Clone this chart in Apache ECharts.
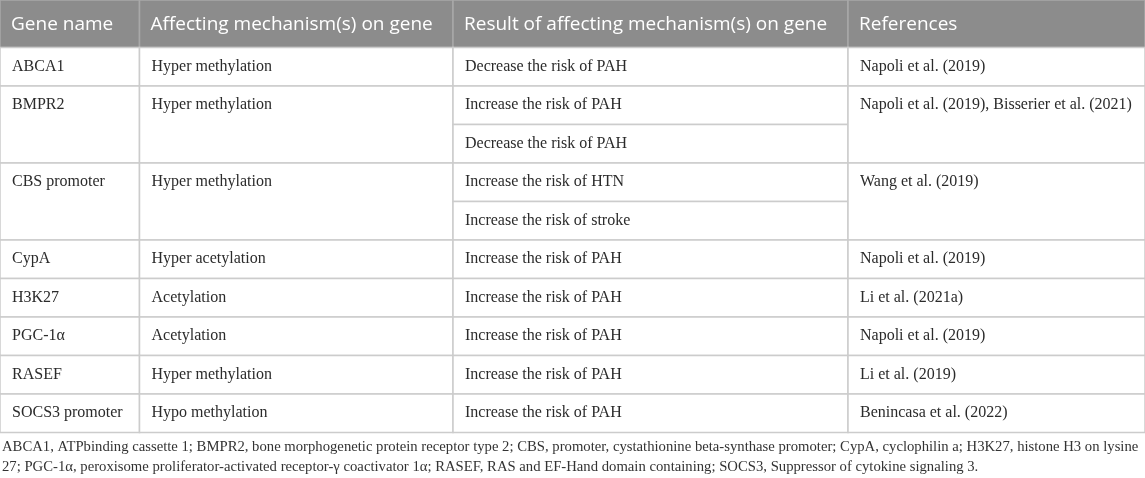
<!DOCTYPE html>
<html>
<head>
<meta charset="utf-8">
<script src="https://cdn.jsdelivr.net/npm/echarts@6/dist/echarts.min.js"></script>
<style>html,body{margin:0;padding:0;background:#fff}#c{width:1145px;height:478px}</style>
</head>
<body>
<div id="c"></div>
<script>
const headers = ['Gene name', 'Affecting mechanism(s) on gene', 'Result of affecting mechanism(s) on gene', 'References'];
const genes = ['ABCA1', 'BMPR2', 'CBS promoter', 'CypA', 'H3K27', 'PGC-1α', 'RASEF', 'SOCS3 promoter'];
const mechanisms = ['Hyper methylation', 'Hyper methylation', 'Hyper methylation', 'Hyper acetylation', 'Acetylation', 'Acetylation', 'Hyper methylation', 'Hypo methylation'];
const results = [
  ['Decrease the risk of PAH'],
  ['Increase the risk of PAH', 'Decrease the risk of PAH'],
  ['Increase the risk of HTN', 'Increase the risk of stroke'],
  ['Increase the risk of PAH'],
  ['Increase the risk of PAH'],
  ['Increase the risk of PAH'],
  ['Increase the risk of PAH'],
  ['Increase the risk of PAH']
];
const references = ['Napoli et al. (2019)', 'Napoli et al. (2019), Bisserier et al. (2021)', 'Wang et al. (2019)', 'Napoli et al. (2019)', 'Li et al. (2021a)', 'Napoli et al. (2019)', 'Li et al. (2019)', 'Benincasa et al. (2022)'];
const footnote = 'ABCA1, ATPbinding cassette 1; BMPR2, bone morphogenetic protein receptor type 2; CBS, promoter, cystathionine beta-synthase promoter; CypA, cyclophilin a; H3K27, histone H3 on lysine\n27; PGC-1α, peroxisome proliferator-activated receptor-γ coactivator 1α; RASEF, RAS and EF-Hand domain containing; SOCS3, Suppressor of cytokine signaling 3.';

// layout (not data)
const colEdges = [0, 139.5, 453, 848, 1145];
const headerUnits = 47.5 / 38.5;

// build cell table
const cells = [];
headers.forEach((h, ci) => cells.push({ header: true, col: ci, y0: -headerUnits, y1: 0, ty: -headerUnits / 2, text: h }));
let r = 0;
genes.forEach((g, i) => {
  const span = results[i].length;
  cells.push({ col: 0, y0: r, y1: r + span, ty: r + 0.5, text: g });
  cells.push({ col: 1, y0: r, y1: r + span, ty: r + 0.5, text: mechanisms[i] });
  results[i].forEach((t, k) => cells.push({ col: 2, y0: r + k, y1: r + k + 1, ty: r + k + 0.5, text: t }));
  cells.push({ col: 3, y0: r, y1: r + span, ty: r + 0.5, text: references[i] });
  r += span;
});
const totalRows = r;

const chart = echarts.init(document.getElementById('c'), null, { renderer: 'canvas' });
chart.setOption({
  animation: false,
  title: {
    text: footnote,
    left: 2,
    top: 437,
    padding: 0,
    textStyle: { fontFamily: 'Liberation Serif', fontSize: 14.7, fontWeight: 'normal', color: '#333', lineHeight: 20 }
  },
  grid: { left: 0, right: 0, top: 0, bottom: 478 - 432.5 },
  xAxis: { type: 'value', min: colEdges[0], max: colEdges[colEdges.length - 1], show: false },
  yAxis: { type: 'value', min: -headerUnits, max: totalRows, inverse: true, show: false },
  series: [{
    type: 'custom',
    clip: false,
    data: cells.map(c => [colEdges[c.col], c.y0, colEdges[c.col + 1], c.y1, c.ty]),
    renderItem: function (params, api) {
      const c = cells[params.dataIndex];
      const p0 = api.coord([api.value(0), api.value(1)]);
      const p1 = api.coord([api.value(2), api.value(3)]);
      const pt = api.coord([api.value(0), api.value(4)]);
      return {
        type: 'group',
        children: [
          { type: 'rect', shape: { x: p0[0], y: p0[1], width: p1[0] - p0[0], height: p1[1] - p0[1] },
            style: { fill: c.header ? '#8c8c8c' : '#ffffff', stroke: c.header ? '#a8a8a8' : '#cccccc', lineWidth: 1.5 } },
          { type: 'text', x: p0[0] + (c.header ? 11 : 12), y: pt[1] + (c.header ? 1 : 0),
            style: { text: c.text, fill: c.header ? '#ffffff' : '#2b2b2b',
                     font: c.header ? '19px "Open Sans"' : '16px "Liberation Serif"',
                     align: 'left', verticalAlign: 'middle' } }
        ]
      };
    }
  }]
});
</script>
</body>
</html>
